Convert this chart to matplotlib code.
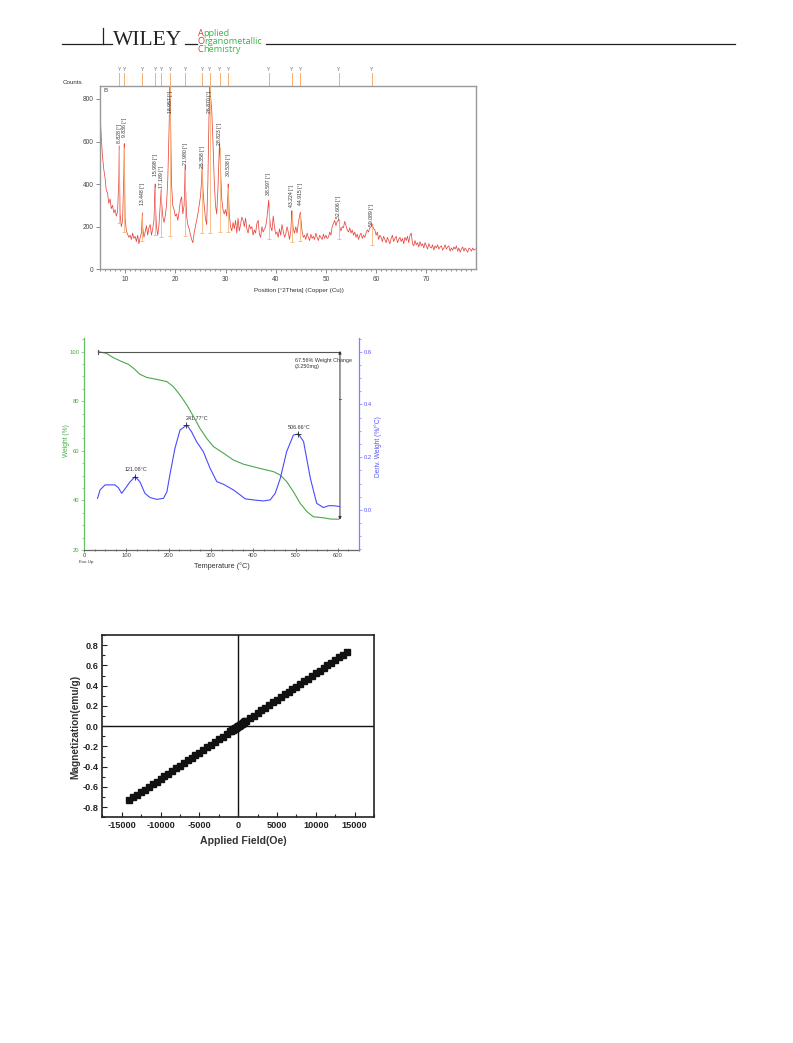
import numpy as np
import matplotlib
matplotlib.use("Agg")
import matplotlib.pyplot as plt
import matplotlib.transforms as mtransforms
from matplotlib.lines import Line2D
from matplotlib.ticker import MultipleLocator, FormatStrFormatter

#### data ######################################################################

# XRD background, sampled every 0.25 deg from 5 to 80
xrd_start, xrd_step = 5.0, 0.25
xrd_counts = [
    740, 620, 530, 470, 430, 370, 360, 310, 330, 285, 300, 265, 280, 250, 270, 420, 260, 200, 230, 450,
    240, 180, 165, 150, 160, 140, 170, 145, 155, 130, 160, 120, 150, 170, 200, 150, 175, 205, 160, 195,
    210, 160, 190, 230, 330, 200, 160, 210, 300, 320, 250, 220, 250, 300, 420, 650, 800, 400, 300, 280,
    250, 260, 230, 270, 320, 340, 260, 300, 420, 250, 210, 190, 165, 140, 125, 170, 200, 230, 260, 300,
    340, 420, 380, 300, 240, 210, 420, 780, 820, 750, 600, 420, 300, 260, 380, 560, 480, 330, 280, 260,
    280, 250, 360, 260, 200, 180, 220, 190, 230, 170, 240, 180, 210, 245, 230, 200, 240, 190, 170, 210,
    190, 200, 160, 185, 170, 215, 230, 165, 150, 200, 175, 190, 200, 240, 300, 250, 200, 180, 250, 200,
    165, 175, 150, 190, 160, 210, 180, 150, 165, 200, 175, 140, 180, 260, 190, 170, 200, 170, 215, 250,
    240, 180, 150, 160, 140, 170, 150, 135, 165, 145, 155, 140, 170, 150, 135, 160, 150, 140, 165, 145,
    160, 145, 150, 175, 160, 200, 215, 230, 205, 225, 230, 200, 180, 200, 195, 225, 205, 185, 175, 195,
    170, 185, 160, 175, 150, 165, 140, 160, 170, 145, 160, 150, 170, 185, 175, 195, 200, 210, 190, 185,
    160, 175, 140, 160, 150, 130, 155, 140, 125, 150, 135, 120, 145, 160, 130, 145, 155, 125, 140, 150,
    130, 145, 120, 150, 135, 155, 125, 160, 170, 120, 110, 135, 115, 125, 105, 130, 110, 120, 100, 125,
    110, 95, 120, 105, 100, 115, 90, 110, 100, 115, 95, 105, 110, 90, 100, 115, 95, 105, 110, 85,
    100, 90, 105, 95, 110, 85, 100, 80, 95, 105, 85, 100, 90, 80, 100, 95, 85, 100, 90, 95,
    95,
]
peak_pos = [8.828, 9.836, 13.448, 15.998, 17.189, 18.957, 21.980, 25.358,
            26.870, 28.823, 30.538, 38.597, 43.224, 44.915, 52.606, 59.089]
peak_height = [580, 590, 265, 400, 375, 900, 485, 495,
               900, 590, 400, 325, 275, 268, 235, 215]
peak_label_y = [595, 620, 301, 437, 381, 732, 489, 474,
                732, 582, 437, 348, 292, 301, 240, 203]
stick_bottom = [217, 176, 132, 160, 153, 156, 156, 170,
                172, 176, 176, 142, 129, 134, 142, 114]

# TGA
tga_temp = [34, 53, 69, 89, 105, 117, 132, 148, 172, 196, 211, 227, 243, 259, 274,
            290, 306, 330, 353, 377, 416, 448, 464, 479, 495, 511, 527, 542, 566, 582, 602]
tga_weight = [100, 99.3, 97.6, 96, 94.9, 93.3, 90.9, 89.6, 88.8, 87.9, 85.9, 82.5, 78.5, 73.8, 69.1,
              65, 61.7, 59, 56.3, 54.6, 52.9, 51.6, 50.2, 47.6, 43.5, 38.8, 35.5, 33.4, 33, 32.5, 32.4]
dtg_temp = [32, 38, 50, 73, 81, 89, 97, 109, 121, 132, 144, 156, 172, 188, 196, 203, 215, 227,
            243, 254, 266, 282, 298, 314, 330, 353, 369, 381, 400, 424, 440, 452, 464, 479, 495,
            507, 519, 535, 550, 566, 578, 590, 604]
dtg_value = [0.044, 0.076, 0.095, 0.095, 0.085, 0.063, 0.080, 0.107, 0.126, 0.107, 0.063, 0.047,
             0.040, 0.044, 0.069, 0.133, 0.234, 0.303, 0.322, 0.297, 0.259, 0.221, 0.158, 0.107,
             0.097, 0.076, 0.057, 0.042, 0.038, 0.034, 0.038, 0.063, 0.120, 0.221, 0.284, 0.288,
             0.259, 0.120, 0.025, 0.009, 0.016, 0.016, 0.013]
dtg_peak_temp = [121.08, 241.77, 506.66]
dtg_peak_value = [0.126, 0.322, 0.288]
dtg_label_x = [123, 267, 509]
dtg_label_y = [0.152, 0.347, 0.312]

# VSM
field_oe = [-14000, -13500, -13000, -12500, -12000, -11500, -11000, -10500, -10000, -9500,
            -9000, -8500, -8000, -7500, -7000, -6500, -6000, -5500, -5000, -4500,
            -4000, -3500, -3000, -2500, -2000, -1500, -1000, -500, 0, 500,
            1000, 1500, 2000, 2500, 3000, 3500, 4000, 4500, 5000, 5500,
            6000, 6500, 7000, 7500, 8000, 8500, 9000, 9500, 10000, 10500,
            11000, 11500, 12000, 12500, 13000, 13500, 14000]
magnet = [-0.730, -0.704, -0.678, -0.652, -0.626, -0.600, -0.574, -0.548, -0.521, -0.495,
          -0.469, -0.443, -0.417, -0.391, -0.365, -0.339, -0.313, -0.287, -0.261, -0.235,
          -0.209, -0.183, -0.156, -0.130, -0.104, -0.078, -0.052, -0.026, 0.000, 0.026,
          0.052, 0.078, 0.104, 0.130, 0.156, 0.183, 0.209, 0.235, 0.261, 0.287,
          0.313, 0.339, 0.365, 0.391, 0.417, 0.443, 0.469, 0.495, 0.521, 0.548,
          0.574, 0.600, 0.626, 0.652, 0.678, 0.704, 0.730]
field_low = [-900, -800, -700, -600, -400, -300, -200, -100, 100, 200, 300, 400, 600, 700, 800, 900]
magnet_low = [-0.047, -0.042, -0.037, -0.031, -0.021, -0.016, -0.010, -0.005,
              0.005, 0.010, 0.016, 0.021, 0.031, 0.037, 0.042, 0.047]

#### figure ####################################################################

W, H = 793, 1043
def fx(px): return px / W
def fy(py): return 1 - py / H

plt.rcParams['font.family'] = ['Liberation Sans', 'DejaVu Sans']
plt.rcParams['axes.unicode_minus'] = False
fig = plt.figure(figsize=(W / 100, H / 100), dpi=100)
renderer = fig.canvas.get_renderer()

# header
for x0, x1 in [(62, 112), (185, 197), (266, 735)]:
    fig.add_artist(Line2D([fx(x0), fx(x1)], [fy(44.3)] * 2, color='#222', lw=0.9))
fig.add_artist(Line2D([fx(103.3)] * 2, [fy(28.3), fy(44.3)], color='#222', lw=0.9))
fig.text(fx(112.5), fy(44.8), 'WILEY', family='Liberation Serif', fontsize=15.5,
         color='#222', va='baseline')
green, red = '#3bb54a', '#e8322a'
for word, ybase in [('Applied', 35.6), ('Organometallic', 43.6), ('Chemistry', 51.6)]:
    x0 = 197.5
    full = fig.text(fx(x0), fy(ybase), word, family='Open Sans', fontsize=6.6,
                    color='none', va='baseline')
    rest = fig.text(0, 0, word[1:], family='Open Sans', fontsize=6.6, color='none')
    w_full = full.get_window_extent(renderer).width
    w_rest = rest.get_window_extent(renderer).width
    full.remove()
    rest.remove()
    fig.text(fx(x0), fy(ybase), word[0], family='Open Sans', fontsize=6.6,
             color=red, va='baseline')
    fig.text(fx(x0 + w_full - w_rest), fy(ybase), word[1:], family='Open Sans',
             fontsize=6.6, color=green, va='baseline')

#### XRD #######################################################################

ax1 = fig.add_axes([fx(100), fy(269.3), (476 - 100) / W, (269.3 - 85.7) / H])
bg_x = xrd_start + xrd_step * np.arange(len(xrd_counts))
xx = np.concatenate([bg_x, peak_pos])
yy = np.concatenate([xrd_counts, peak_height])
order = np.argsort(xx)
ax1.plot(xx[order], yy[order], color='#e8463f', lw=0.55, zorder=2)
ax1.vlines(peak_pos, stick_bottom, np.array(peak_height) * 0.97, color='#f7b77a', lw=0.6, zorder=3)
ax1.plot(peak_pos, stick_bottom, ls='none', marker='_', ms=3, mew=0.6, color='#f7b77a', zorder=3)
for p, ly in zip(peak_pos, peak_label_y):
    ax1.text(p, ly, f'{p:.3f} [°]', rotation=90, ha='center', va='bottom',
             fontsize=3.7, color='#333', zorder=4)
trans = mtransforms.blended_transform_factory(ax1.transData, ax1.transAxes)
for p in peak_pos:
    ax1.plot([p, p], [1.0, 1.07], transform=trans, color='#f6b070', lw=0.7, clip_on=False)
    ax1.text(p, 1.072, 'Y', transform=trans, fontsize=3.5, color='#666',
             ha='center', va='bottom', clip_on=False)
ax1.set_xlim(5, 79.9)
ax1.set_ylim(0, 862)
ax1.xaxis.set_major_locator(MultipleLocator(10))
ax1.xaxis.set_minor_locator(MultipleLocator(1))
ax1.yaxis.set_major_locator(MultipleLocator(200))
ax1.tick_params(which='both', direction='out', colors='#777', labelcolor='#444',
                labelsize=4.7, width=0.6, pad=1.5)
ax1.tick_params(which='major', length=3)
ax1.tick_params(which='minor', length=1.5)
for s in ax1.spines.values():
    s.set_color('#999')
    s.set_linewidth(1.0)
ax1.text(0.008, 0.99, 'B', transform=ax1.transAxes, fontsize=4.5, color='#444', va='top')
fig.text(fx(63), fy(82), 'Counts', fontsize=4.5, color='#333', va='center')
fig.text(fx(299), fy(290.7), 'Position [°2Theta] (Copper (Cu))', fontsize=4.5,
         color='#333', ha='center', va='center')

#### TGA #######################################################################

ax2 = fig.add_axes([fx(84), fy(550), (359 - 84) / W, (550 - 338) / H])
ax2.plot(tga_temp, tga_weight, color='#4aa84a', lw=0.8)
ax2.plot([33, 605], [100, 100], color='#555', lw=0.8)
ax2.plot([33, 33], [99.2, 100.8], color='#555', lw=0.8)
ax2.annotate('', xy=(605, 100.3), xytext=(605, 32.2),
             arrowprops=dict(arrowstyle='<|-|>', color='#333', lw=0.7,
                             mutation_scale=4, shrinkA=0, shrinkB=0))
ax2.plot([603, 607], [81, 81], color='#d04040', lw=0.6)
ax2.text(499, 95.3, '67.56% Weight Change\n(3.250mg)', fontsize=3.9, color='#333',
         va='center', linespacing=1.2)
ax2.set_xlim(0, 650)
ax2.set_ylim(20, 105.5)
ax2.xaxis.set_major_locator(MultipleLocator(100))
ax2.xaxis.set_minor_locator(MultipleLocator(25))
ax2.yaxis.set_major_locator(MultipleLocator(20))
ax2.yaxis.set_minor_locator(MultipleLocator(5))
ax2.tick_params(axis='x', which='both', direction='inout', colors='#444',
                labelsize=4.2, width=0.5, pad=1)
ax2.tick_params(axis='x', which='major', length=3)
ax2.tick_params(axis='x', which='minor', length=2)
ax2.tick_params(axis='y', which='both', direction='out', colors='#66c066',
                labelcolor='#4aa84a', labelsize=4.2, width=0.5, pad=1)
ax2.tick_params(axis='y', which='major', length=2.5)
ax2.tick_params(axis='y', which='minor', length=1.5)
ax2.spines['top'].set_visible(False)
ax2.spines['right'].set_visible(False)
ax2.spines['left'].set_color('#66c066')
ax2.spines['bottom'].set_color('#666')
for s in ax2.spines.values():
    s.set_linewidth(0.9)

ax2r = ax2.twinx()
ax2r.plot(dtg_temp, dtg_value, color='#4a4aff', lw=0.8)
ax2r.plot(dtg_peak_temp, dtg_peak_value, ls='none', marker='+', ms=5, mew=0.6, color='#222')
for t, lx, ly in zip(dtg_peak_temp, dtg_label_x, dtg_label_y):
    ax2r.text(lx, ly, f'{t:.2f}°C', fontsize=3.9, color='#333', ha='center', va='center')
ax2r.set_ylim(-0.152, 0.652)
ax2r.yaxis.set_major_locator(MultipleLocator(0.2))
ax2r.yaxis.set_minor_locator(MultipleLocator(0.05))
ax2r.yaxis.set_major_formatter(FormatStrFormatter('%.1f'))
ax2r.tick_params(axis='y', which='both', direction='out', colors='#8080ff',
                 labelcolor='#5555ff', labelsize=4.2, width=0.5, pad=1)
ax2r.tick_params(axis='y', which='major', length=2.5)
ax2r.tick_params(axis='y', which='minor', length=1.5)
ax2r.spines['top'].set_visible(False)
ax2r.spines['left'].set_visible(False)
ax2r.spines['bottom'].set_visible(False)
ax2r.spines['right'].set_color('#8080ff')
ax2r.spines['right'].set_linewidth(0.9)

fig.text(fx(66), fy(441), 'Weight (%)', fontsize=4.8, color='#4aa84a', rotation=90,
         ha='center', va='center')
fig.text(fx(378), fy(447), 'Deriv. Weight (%/°C)', fontsize=4.8, color='#5555ff',
         rotation=90, ha='center', va='center')
fig.text(fx(222), fy(566), 'Temperature (°C)', fontsize=5.2, color='#333',
         ha='center', va='center')
fig.text(fx(86), fy(562.5), 'Exo Up', fontsize=3.2, color='#333', ha='center', va='center')

#### VSM #######################################################################

ax3 = fig.add_axes([fx(102.3), fy(817.3), (374 - 102.3) / W, (817.3 - 635) / H])
ax3.axhline(0, color='#111', lw=1.0, zorder=1)
ax3.axvline(0, color='#111', lw=1.0, zorder=1)
ax3.plot(field_oe, magnet, color='#111', lw=0.8, marker='s', ms=3.8, zorder=3)
ax3.plot(field_low, magnet_low, ls='none', color='#111', marker='s', ms=3.8, zorder=3)
ax3.set_xlim(-17500, 17500)
ax3.set_ylim(-0.9, 0.9)
ax3.xaxis.set_major_locator(MultipleLocator(5000))
ax3.xaxis.set_minor_locator(MultipleLocator(2500))
ax3.yaxis.set_major_locator(MultipleLocator(0.2))
ax3.yaxis.set_minor_locator(MultipleLocator(0.1))
ax3.yaxis.set_major_formatter(FormatStrFormatter('%.1f'))
ax3.tick_params(which='both', direction='in', colors='#222', labelsize=6.6, width=0.8, pad=2.5)
ax3.tick_params(which='major', length=3.5)
ax3.tick_params(which='minor', length=2)
for lab in ax3.get_xticklabels() + ax3.get_yticklabels():
    lab.set_fontweight('bold')
for s in ax3.spines.values():
    s.set_linewidth(1.2)
    s.set_color('#222')
fig.text(fx(75), fy(727), 'Magnetization(emu/g)', fontsize=7.3, fontweight='bold',
         color='#333', rotation=90, ha='center', va='center')
fig.text(fx(243), fy(841), 'Applied Field(Oe)', fontsize=7.6, fontweight='bold',
         color='#333', ha='center', va='center')

fig.savefig('out.png', dpi=100)
plt.close(fig)
